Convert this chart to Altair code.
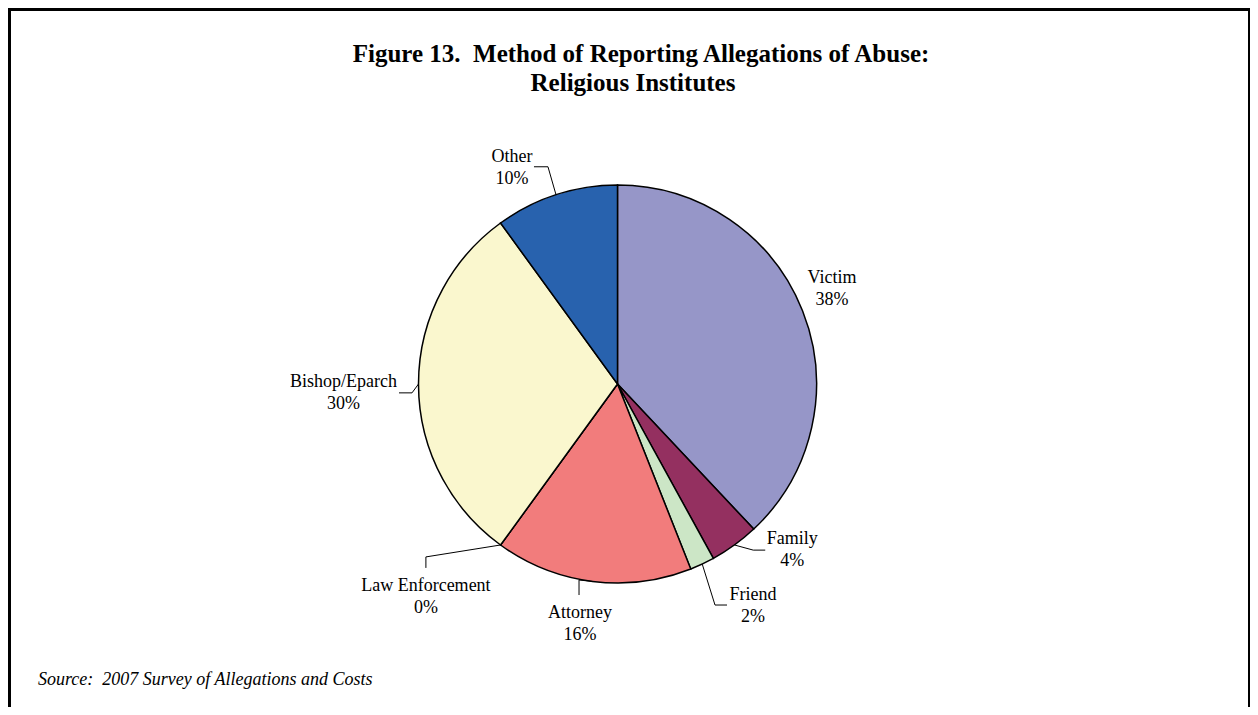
import math
import altair as alt
import pandas as pd

# ---- data ----
CATEGORIES = ["Victim", "Family", "Friend", "Attorney", "Law Enforcement", "Bishop/Eparch", "Other"]
PERCENTS = [38, 4, 2, 16, 0, 30, 10]
COLORS = ["#9696C8", "#943060", "#CCE6C6", "#F27C7C", "#C0504D", "#FAF7CE", "#2862AE"]

TITLE_1 = "Figure 13.\u00a0 Method of Reporting Allegations of Abuse:"
TITLE_2 = "Religious Institutes"
SOURCE = "Source:\u00a0 2007 Survey of Allegations and Costs"

# ---- layout (pixels, chart space) ----
W, H = 1242, 699
CX, CY, R = 609.5, 376.0, 199.0
LABEL_RADIUS = [237, 237, 255, 237, 282, 274, 246]
LABEL_NUDGE = [-3.6, -11.5, -6.9, 1.9, 6.8, -0.6, -7.4]
LEADER_BENDS = [None, [(-39, 6), (-27, 6)], [(-38, 5), (-26, 5)], [(-1, -38), (-1, -23)],
                [(0, -34), (0, -23)], [(68.5, 6), (55.5, 6)], [(36, 5), (22, 5)]]
FONT = "Liberation Serif"

pie_df = pd.DataFrame({"category": CATEGORIES, "percent": PERCENTS, "order": list(range(len(CATEGORIES)))})

label_rows, leader_rows = [], []
cum = 0.0
for i, (cat, p) in enumerate(zip(CATEGORIES, PERCENTS)):
    mid = (cum + p / 2.0) * 3.6
    cum += p
    a = math.radians(mid + LABEL_NUDGE[i])
    lx = CX + LABEL_RADIUS[i] * math.sin(a)
    ly = CY - LABEL_RADIUS[i] * math.cos(a)
    label_rows.append({"category": cat, "text": f"{cat}\n{p}%", "x": lx, "y": ly})
    if LEADER_BENDS[i]:
        m = math.radians(mid)
        pts = [(CX + R * math.sin(m), CY - R * math.cos(m))]
        pts += [(lx + dx, ly + dy) for dx, dy in LEADER_BENDS[i]]
        for s, (px, py) in enumerate(pts):
            leader_rows.append({"category": cat, "seq": s, "x": px, "y": py})

label_df = pd.DataFrame(label_rows)
leader_df = pd.DataFrame(leader_rows)
one = pd.DataFrame({"k": [0]})

xs = alt.Scale(domain=[0, W], range=[0, W], nice=False, zero=False)
ys = alt.Scale(domain=[0, H], range=[0, H], nice=False, zero=False)

pie = alt.Chart(pie_df).mark_arc(outerRadius=R, stroke="black", strokeWidth=1.5).encode(
    theta=alt.Theta("percent:Q", stack=True),
    color=alt.Color("category:N", scale=alt.Scale(domain=CATEGORIES, range=COLORS), legend=None),
    order=alt.Order("order:Q", sort="ascending"),
    x=alt.value(CX),
    y=alt.value(CY),
)

leaders = alt.Chart(leader_df).mark_line(color="black", strokeWidth=1).encode(
    x=alt.X("x:Q", scale=xs, axis=None),
    y=alt.Y("y:Q", scale=ys, axis=None),
    detail="category:N",
    order="seq:Q",
)

labels = alt.Chart(label_df).mark_text(
    font=FONT, fontSize=18, color="black", align="center", baseline="alphabetic",
    lineBreak="\n", lineHeight=22,
).encode(
    x=alt.X("x:Q", scale=xs, axis=None),
    y=alt.Y("y:Q", scale=ys, axis=None),
    text="text:N",
)

title1 = alt.Chart(one).mark_text(font=FONT, fontSize=25, fontWeight="bold", align="center",
                                  baseline="alphabetic", color="black").encode(
    x=alt.value(633), y=alt.value(54), text=alt.value(TITLE_1))
title2 = alt.Chart(one).mark_text(font=FONT, fontSize=25, fontWeight="bold", align="center",
                                  baseline="alphabetic", color="black").encode(
    x=alt.value(625), y=alt.value(83), text=alt.value(TITLE_2))
source = alt.Chart(one).mark_text(font=FONT, fontSize=18, fontStyle="italic", align="left",
                                  baseline="alphabetic", color="black").encode(
    x=alt.value(30), y=alt.value(677), text=alt.value(SOURCE))

frame_top = alt.Chart(one).mark_rect(color="black").encode(
    x=alt.value(0), x2=alt.value(W), y=alt.value(0), y2=alt.value(3))
frame_left = alt.Chart(one).mark_rect(color="black").encode(
    x=alt.value(0), x2=alt.value(3), y=alt.value(0), y2=alt.value(H))
frame_right = alt.Chart(one).mark_rect(color="black").encode(
    x=alt.value(W - 2), x2=alt.value(W), y=alt.value(0), y2=alt.value(H))

chart = alt.layer(
    pie, leaders, labels, title1, title2, source, frame_top, frame_left, frame_right
).properties(
    width=W, height=H, padding=0,
    autosize=alt.AutoSizeParams(type="fit", contains="padding"),
    background="white",
).configure_view(stroke=None)

chart.save("out.html", embed_options={"renderer": "svg", "actions": False})
